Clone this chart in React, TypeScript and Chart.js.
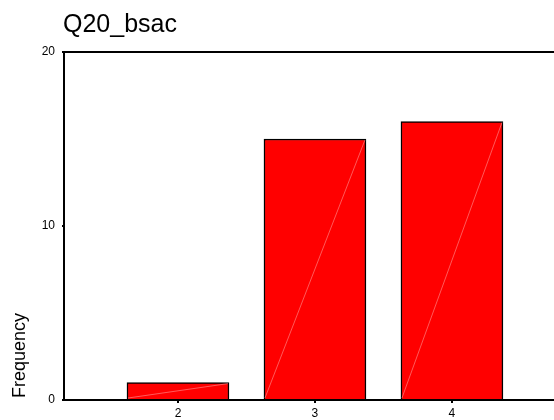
import React, { useEffect, useRef } from "react";
import { Chart, registerables } from "chart.js";

Chart.register(...registerables);

const titleText = "Q20_bsac";
const yAxisLabel = "Frequency";
const categories = [2, 3, 4];
const frequencies = [1, 15, 16];
const yTicks = [0, 10, 20];

const FONT = "'Liberation Sans', Arial, Helvetica, sans-serif";

const decorPlugin = {
  id: "decor",
  beforeDraw(chart: any) {
    const { ctx, width, height } = chart;
    ctx.save();
    ctx.fillStyle = "#ffffff";
    ctx.fillRect(0, 0, width, height);
    ctx.restore();
  },
  afterDatasetsDraw(chart: any) {
    const { ctx, chartArea } = chart;
    const meta = chart.getDatasetMeta(0);
    ctx.save();
    // faint diagonal inside each bar
    ctx.strokeStyle = "rgba(255,150,150,0.75)";
    ctx.lineWidth = 0.8;
    meta.data.forEach((bar: any) => {
      const left = bar.x - bar.width / 2 + 1;
      const right = bar.x + bar.width / 2 - 1;
      ctx.beginPath();
      ctx.moveTo(left, bar.base - 1);
      ctx.lineTo(right, bar.y + 1);
      ctx.stroke();
    });
    // top frame line
    ctx.strokeStyle = "#000";
    ctx.lineWidth = 2;
    ctx.beginPath();
    ctx.moveTo(chartArea.left - 1, chartArea.top);
    ctx.lineTo(chart.width, chartArea.top);
    ctx.stroke();
    // title
    ctx.fillStyle = "#000";
    ctx.font = `25px ${FONT}`;
    ctx.textAlign = "left";
    ctx.textBaseline = "alphabetic";
    ctx.fillText(titleText, 63, 32);
    // y axis label
    ctx.font = `18px ${FONT}`;
    ctx.translate(25, 398);
    ctx.rotate(-Math.PI / 2);
    ctx.fillText(yAxisLabel, 0, 0);
    ctx.restore();
  },
};

export default function App() {
  const ref = useRef<HTMLCanvasElement | null>(null);

  useEffect(() => {
    document.body.style.margin = "0";
    const canvas = ref.current;
    if (!canvas) return;
    const chart = new Chart(canvas, {
      type: "bar",
      data: {
        datasets: [
          {
            data: categories.map((c, i) => ({ x: c, y: frequencies[i] })),
            backgroundColor: "#ff0000",
            borderColor: "#000000",
            borderWidth: 1.5,
            barThickness: 102,
          },
        ],
      },
      options: {
        responsive: false,
        animation: false,
        events: [],
        layout: { padding: { top: 52, right: 0, left: 0, bottom: 0 } },
        plugins: {
          legend: { display: false },
          tooltip: { enabled: false },
          title: { display: false },
        },
        scales: {
          x: {
            type: "linear",
            min: 1.168,
            max: 4.745,
            offset: false,
            z: 1,
            afterBuildTicks: (s: any) => {
              s.ticks = categories.map((v) => ({ value: v }));
            },
            afterFit: (s: any) => {
              s.height = 20;
            },
            grid: {
              offset: false,
              drawOnChartArea: false,
              drawTicks: true,
              tickLength: 3,
              color: "#000",
              lineWidth: 2,
            },
            border: { display: true, color: "#000", width: 2 },
            ticks: {
              color: "#000",
              padding: 3,
              font: { family: FONT, size: 12 },
              callback: (v: any) => String(v),
            },
          },
          y: {
            min: 0,
            max: 20,
            z: 1,
            afterBuildTicks: (s: any) => {
              s.ticks = yTicks.map((v) => ({ value: v }));
            },
            afterFit: (s: any) => {
              s.width = 64;
            },
            grid: {
              drawOnChartArea: false,
              drawTicks: true,
              tickLength: 2,
              color: "#000",
              lineWidth: 2,
            },
            border: { display: true, color: "#000", width: 2 },
            ticks: {
              color: "#000",
              padding: 7,
              font: { family: FONT, size: 12 },
            },
          },
        },
      },
      plugins: [decorPlugin],
    });
    return () => chart.destroy();
  }, []);

  return (
    <div style={{ position: "relative", width: 554, height: 420 }}>
      <canvas ref={ref} width={554} height={420} style={{ display: "block" }} />
    </div>
  );
}
